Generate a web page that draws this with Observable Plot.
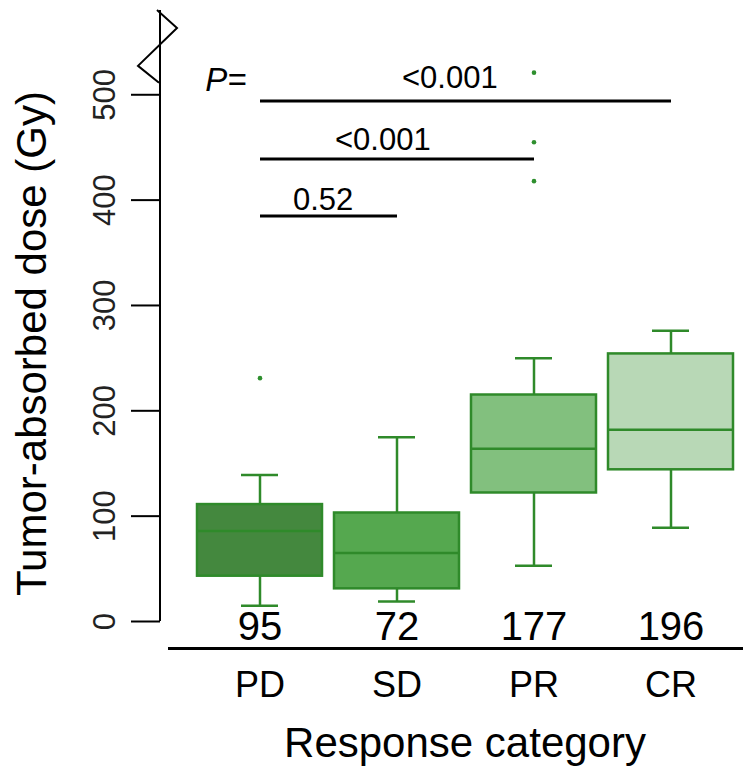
<!DOCTYPE html>
<html><head><meta charset="utf-8">
<script src="https://cdn.jsdelivr.net/npm/d3@7"></script>
<script src="https://cdn.jsdelivr.net/npm/@observablehq/plot@0.6"></script>
<style>body{margin:0;background:#fff}</style>
</head><body><div id="chart"></div>
<script>
const categories = ["PD", "SD", "PR", "CR"];
const whiskerLow = [15, 19, 53, 89];
const q1 = [43, 31, 122, 144];
const median = [86, 65, 164, 182];
const q3 = [111, 103, 215, 254];
const whiskerHigh = [139, 175, 250, 276];
const countLabels = ["95", "72", "177", "196"];
const outlierCategory = ["PD", "PR", "PR", "PR"];
const outlierValue = [231, 521, 455, 418];
const yTicks = [0, 100, 200, 300, 400, 500];
const pFrom = ["PD", "PD", "PD"];
const pTo = ["CR", "PR", "SD"];
const pLevel = [494, 439, 385];
const pLabel = ["<0.001", "<0.001", "0.52"];
const fills = ["#44883e", "#55a84f", "#82c07e", "#b8d8b6"];
const yTop = 580;

const boxes = categories.map((c, i) => ({cat: c, lo: whiskerLow[i], q1: q1[i], med: median[i], q3: q3[i], hi: whiskerHigh[i], n: countLabels[i]}));
const outliers = outlierCategory.map((c, i) => ({cat: c, v: outlierValue[i]}));
const pairs = pLabel.map((t, i) => ({from: pFrom[i], to: pTo[i], y: pLevel[i], t}));

const stroke = "#2f8a2a";
const font = "'Liberation Sans', Arial, sans-serif";
const W = 743, H = 770, mL = 190.5, mR = 4.5, mT = 10, mB = 149;
const axisOffset = -30.5;

function axisLineMark(index, scales, values, dims) {
  const ys = typeof scales.y === "function" ? scales.y : d3.scaleLinear([0, yTop], [H - mB, mT]);
  const ax = dims.marginLeft + axisOffset;
  const g = d3.create("svg:g").attr("fill", "none").attr("stroke", "black").attr("stroke-width", 2);
  g.append("line").attr("x1", ax).attr("x2", ax).attr("y1", ys(0)).attr("y2", ys(yTop));
  const zig = [[-3, yTop], [17, 563], [-22, 527], [-1, 511]];
  g.append("path").attr("d", d3.line()(zig.map(([dx, v]) => [ax + dx, ys(v)]))).attr("stroke-linejoin", "miter");
  return g.node();
}

const pDx = [142, 75, 33];
const pDy = [-23, -19, -16];

const chart = Plot.plot({
  width: W, height: H,
  marginLeft: mL, marginRight: mR, marginTop: mT, marginBottom: mB,
  style: {fontFamily: font, background: "white", color: "black"},
  x: {domain: categories, paddingInner: 0.088, paddingOuter: 0.044, axis: null},
  y: {domain: [0, yTop], axis: null},
  color: {domain: categories, range: fills},
  marks: [
    axisLineMark,
    Plot.ruleY(yTicks, {insetLeft: -59.5, insetRight: 578.5, strokeWidth: 2}),
    Plot.text(yTicks, {y: d => d, text: d => String(d), frameAnchor: "left", dx: -76, rotate: -90, lineAnchor: "bottom", textAnchor: "middle", fontSize: 31, fill: "#222"}),
    Plot.text(["Tumor-absorbed dose (Gy)"], {frameAnchor: "left", dx: -158.5, dy: 27.5, rotate: -90, lineAnchor: "middle", textAnchor: "middle", fontSize: 42}),
    Plot.ruleX(boxes, {x: "cat", y1: "lo", y2: "q1", stroke, strokeWidth: 2.5}),
    Plot.ruleX(boxes, {x: "cat", y1: "q3", y2: "hi", stroke, strokeWidth: 2.5}),
    Plot.tickY(boxes, {x: "cat", y: "lo", insetLeft: 44, insetRight: 44, stroke, strokeWidth: 2.5}),
    Plot.tickY(boxes, {x: "cat", y: "hi", insetLeft: 44, insetRight: 44, stroke, strokeWidth: 2.5}),
    Plot.barY(boxes, {x: "cat", y1: "q1", y2: "q3", fill: "cat", stroke, strokeWidth: 2.5}),
    Plot.tickY(boxes, {x: "cat", y: "med", stroke, strokeWidth: 2.5}),
    Plot.dot(outliers, {x: "cat", y: "v", r: 2.3, fill: "#2e8f2e", stroke: null}),
    Plot.link(pairs, {x1: "from", x2: "to", y1: "y", y2: "y", stroke: "black", strokeWidth: 3}),
    ...pairs.map((p, i) => Plot.text([p], {x: "from", y: "y", text: "t", textAnchor: "start", dx: pDx[i], dy: pDy[i], lineAnchor: "middle", fontSize: 31})),
    Plot.text([pairs[0]], {x: "from", y: "y", text: () => "P=", dx: -34, dy: -21, lineAnchor: "middle", fontSize: 33, fontStyle: "italic"}),
    Plot.text(boxes, {x: "cat", text: "n", frameAnchor: "bottom", dy: 6, lineAnchor: "middle", fontSize: 40}),
    Plot.ruleY([0], {dy: 27, insetLeft: -22.5, insetRight: -4.5, strokeWidth: 3}),
    Plot.text(boxes, {x: "cat", text: "cat", frameAnchor: "bottom", dy: 64, lineAnchor: "middle", fontSize: 36}),
    Plot.text(["Response category"], {frameAnchor: "bottom", dy: 122, lineAnchor: "middle", fontSize: 42})
  ]
});
document.getElementById("chart").append(chart);
</script>
</body></html>
